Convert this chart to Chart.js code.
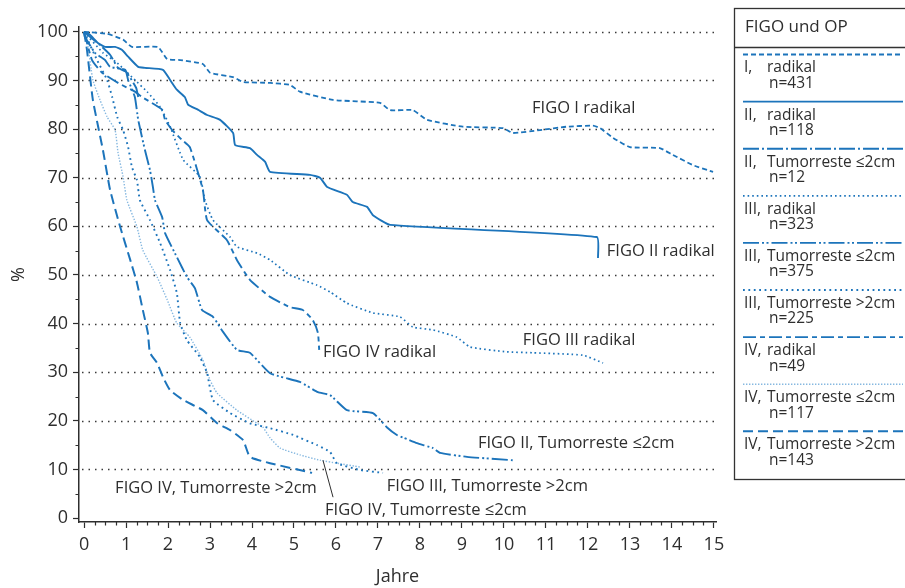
<!DOCTYPE html>
<html>
<head>
    <title>Überleben nach FIGO und OP</title>
    <script src="https://cdn.jsdelivr.net/npm/chart.js"></script>
    <style>
        body { margin: 0; background: #fff; }
        #wrap { width: 905px; height: 588px; }
    </style>
</head>
<body>
    <div id="wrap"><canvas id="figo-survival-chart"></canvas></div>

    <script>
        // axis ticks
        const yTicks = [0, 10, 20, 30, 40, 50, 60, 70, 80, 90, 100];
        const xTicks = [0, 1, 2, 3, 4, 5, 6, 7, 8, 9, 10, 11, 12, 13, 14, 15];

        // survival curves: years / percent
        const figo1RadYears = [0, 0.55, 0.93, 1.14, 1.76, 1.98, 2.29, 2.83, 3.0, 3.55, 3.79, 4.43, 4.9, 5.14, 5.93, 7.05, 7.29, 7.83, 8.17, 9.02, 9.98, 10.21, 10.86, 11.5, 12.12, 12.29, 12.6, 13.0, 13.71, 14.02, 14.5, 14.98];
        const figo1RadPct = [100, 99.6, 98.4, 96.9, 96.9, 94.4, 94.2, 93.4, 91.6, 90.7, 89.7, 89.5, 89.1, 87.7, 86.0, 85.4, 83.9, 83.9, 81.9, 80.5, 80.2, 79.2, 79.8, 80.5, 80.7, 80.2, 78.2, 76.3, 76.1, 74.7, 72.6, 71.2];

        const figo2RadYears = [0, 0.14, 0.33, 0.5, 0.74, 0.9, 1.05, 1.29, 1.45, 1.88, 2.05, 2.21, 2.4, 2.48, 2.71, 2.93, 3.24, 3.55, 3.6, 3.95, 4.12, 4.31, 4.43, 5.38, 5.62, 5.79, 6.26, 6.4, 6.74, 6.88, 7.29, 12.21, 12.24];
        const figo2RadPct = [100, 99.4, 97.7, 96.9, 96.9, 96.3, 94.9, 92.8, 92.6, 92.2, 90.1, 88.1, 86.6, 85.0, 84.0, 82.9, 81.9, 79.2, 76.7, 76.1, 74.7, 73.3, 71.2, 70.6, 70.0, 68.1, 66.5, 65.0, 64.0, 62.3, 60.3, 57.8, 53.5];

        const figo2RestYears = [0, 0.38, 0.62, 0.81, 1.0, 1.24, 1.29];
        const figo2RestPct = [100, 97.3, 95.3, 92.6, 91.8, 88.5, 86.6];

        const figo3RadYears = [0, 0.45, 0.79, 1.26, 1.5, 1.81, 2.05, 2.36, 2.76, 2.88, 3.07, 3.48, 3.64, 4.12, 4.43, 4.9, 5.55, 5.86, 6.26, 6.88, 7.52, 7.83, 8.31, 8.88, 9.19, 10.07, 10.69, 11.88, 12.36];
        const figo3RadPct = [100, 95.7, 93.6, 89.7, 87.7, 84.6, 80.5, 73.7, 70.2, 65.4, 61.3, 57.8, 55.8, 54.5, 53.1, 50.0, 47.9, 46.5, 44.2, 42.2, 41.4, 39.3, 38.7, 37.2, 35.2, 34.2, 34.0, 33.5, 31.9];

        const figo3RestSmallYears = [0, 0.02, 0.26, 0.5, 0.62, 0.98, 1.05, 1.21, 1.29, 1.45, 1.57, 1.64, 1.69, 1.86, 1.93, 2.21, 2.45, 2.64, 2.81, 3.07, 3.31, 3.64, 3.95, 4.43, 5.14, 5.57, 5.86, 6.26, 6.88, 7.21, 7.45, 7.62, 7.93, 8.31, 8.48, 9.12, 10.21];
        const figo3RestSmallPct = [100, 99.0, 95.7, 94.2, 92.8, 92.2, 90.1, 86.6, 81.9, 75.7, 71.6, 68.1, 65.4, 61.9, 58.6, 53.7, 49.6, 47.3, 42.8, 41.4, 38.3, 34.6, 34.0, 29.8, 28.0, 25.9, 25.3, 22.2, 21.6, 18.7, 17.1, 16.5, 15.4, 14.4, 13.4, 12.6, 11.9];

        const figo3RestLargeYears = [0, 0.31, 0.55, 0.67, 0.79, 0.93, 1.05, 1.14, 1.26, 1.33, 1.57, 1.81, 2.05, 2.21, 2.29, 2.45, 2.76, 2.93, 3.07, 3.48, 3.95, 4.43, 4.98, 5.55, 5.86, 6.02, 6.57, 7.12];
        const figo3RestLargePct = [100, 94.2, 90.1, 86.6, 82.5, 79.8, 76.3, 72.2, 69.5, 65.4, 61.3, 56.6, 51.0, 46.3, 40.1, 36.6, 33.1, 29.8, 24.3, 21.6, 19.5, 18.5, 17.1, 15.0, 13.6, 11.3, 9.9, 9.3];

        const figo4RadYears = [0, 0.19, 0.43, 0.81, 1.21, 1.38, 1.86, 1.93, 2.1, 2.33, 2.52, 2.83, 2.93, 3.4, 3.64, 3.95, 4.43, 4.9, 5.21, 5.45, 5.57, 5.6];
        const figo4RadPct = [100, 94.2, 91.6, 89.5, 87.7, 86.6, 84.0, 81.9, 79.8, 77.8, 76.3, 67.5, 61.3, 57.2, 53.1, 49.0, 45.5, 43.4, 42.8, 40.7, 38.1, 34.6];

        const figo4RestSmallYears = [0, 0.07, 0.21, 0.38, 0.55, 0.74, 0.81, 0.93, 1.02, 1.26, 1.4, 1.74, 1.98, 2.21, 2.52, 2.83, 3.0, 3.17, 3.64, 4.12, 4.26, 4.43, 4.67, 5.14, 5.62, 6.02, 6.57];
        const figo4RestSmallPct = [100, 98.4, 90.1, 86.0, 82.5, 79.8, 75.1, 70.2, 65.4, 59.9, 55.1, 49.6, 44.9, 40.1, 37.2, 32.5, 28.4, 25.7, 22.2, 19.5, 18.7, 16.5, 14.4, 13.0, 11.9, 11.3, 10.5];

        const figo4RestLargeYears = [0, 0.07, 0.21, 0.45, 0.62, 0.86, 1.1, 1.26, 1.4, 1.52, 1.57, 1.74, 1.88, 2.05, 2.36, 2.83, 3.17, 3.48, 3.79, 3.95, 4.43, 5.43];
        const figo4RestLargePct = [100, 96.3, 86.0, 75.7, 67.5, 59.9, 53.1, 48.4, 42.8, 38.1, 34.0, 31.9, 29.0, 26.3, 24.3, 22.2, 19.5, 18.1, 16.0, 12.6, 11.3, 9.3];

        // legend rows
        const legendStage = ['I,', 'II,', 'II,', 'III,', 'III,', 'III,', 'IV,', 'IV,', 'IV,'];
        const legendOp = ['radikal', 'radikal', 'Tumorreste \u22642cm', 'radikal', 'Tumorreste \u22642cm', 'Tumorreste >2cm', 'radikal', 'Tumorreste \u22642cm', 'Tumorreste >2cm'];
        const legendN = [431, 118, 12, 323, 375, 225, 49, 117, 143];

        // curve captions, anchored in data units (left edge, middle)
        const curveLabels = [
            ['FIGO I radikal', 10.67, 84.2],
            ['FIGO II radikal', 12.45, 54.9],
            ['FIGO III radikal', 10.45, 36.6],
            ['FIGO IV radikal', 5.69, 34.2],
            ['FIGO II, Tumorreste \u22642cm', 9.38, 15.4],
            ['FIGO III, Tumorreste >2cm', 7.21, 6.6],
            ['FIGO IV, Tumorreste \u22642cm', 5.74, 1.6],
            ['FIGO IV, Tumorreste >2cm', 0.74, 6.2]
        ];
        const leaderLine = [[5.69, 11.9], [5.93, 4.3]];

        const BLUE = '#1c74bb';
        const LIGHT = '#86b8e0';
        const INK = '#2e2e2e';
        const FONT = '"Open Sans", "DejaVu Sans", sans-serif';

        function toPoints(xs, ys) {
            return xs.map((x, i) => ({ x: x, y: ys[i] }));
        }

        function curve(label, xs, ys, dash, color, width) {
            return {
                label: label,
                data: toPoints(xs, ys),
                showLine: true,
                borderColor: color,
                borderWidth: width,
                borderDash: dash,
                borderCapStyle: 'butt',
                borderJoinStyle: 'round',
                pointRadius: 0,
                tension: 0.15,
                fill: false
            };
        }

        const datasets = [
            curve('I, radikal', figo1RadYears, figo1RadPct, [5, 3], BLUE, 1.8),
            curve('II, radikal', figo2RadYears, figo2RadPct, [], BLUE, 1.9),
            curve('II, Tumorreste ≤2cm', figo2RestYears, figo2RestPct, [16, 3, 2, 3], BLUE, 1.9),
            curve('III, radikal', figo3RadYears, figo3RadPct, [1.6, 3], BLUE, 1.7),
            curve('III, Tumorreste ≤2cm', figo3RestSmallYears, figo3RestSmallPct, [16, 3, 2, 2.5, 2, 3], BLUE, 1.9),
            curve('III, Tumorreste >2cm', figo3RestLargeYears, figo3RestLargePct, [1.8, 3.6], BLUE, 1.9),
            curve('IV, radikal', figo4RadYears, figo4RadPct, [13, 4, 5, 4], BLUE, 1.9),
            curve('IV, Tumorreste ≤2cm', figo4RestSmallYears, figo4RestSmallPct, [1.4, 1.6], LIGHT, 1.4),
            curve('IV, Tumorreste >2cm', figo4RestLargeYears, figo4RestLargePct, [10, 5], BLUE, 2)
        ];

        // dotted horizontal grid, minor ticks, captions and the boxed legend
        const decorPlugin = {
            id: 'decor',
            beforeDatasetsDraw(chart) {
                const ctx = chart.ctx;
                const { left, right } = chart.chartArea;
                const y = chart.scales.y;
                ctx.save();
                ctx.strokeStyle = '#3a3a3a';
                ctx.lineWidth = 1.5;
                ctx.setLineDash([1.5, 5]);
                yTicks.filter(v => v > 0).forEach(v => {
                    const py = Math.round(y.getPixelForValue(v)) + 0.5;
                    ctx.beginPath();
                    ctx.moveTo(left + 3, py);
                    ctx.lineTo(right, py);
                    ctx.stroke();
                });
                ctx.restore();
            },
            afterDraw(chart) {
                const ctx = chart.ctx;
                const { left, bottom } = chart.chartArea;
                const x = chart.scales.x;
                const y = chart.scales.y;
                ctx.save();

                // minor ticks
                ctx.strokeStyle = INK;
                ctx.lineWidth = 1.2;
                ctx.beginPath();
                for (let v = 5; v < 100; v += 10) {
                    const py = Math.round(y.getPixelForValue(v)) + 0.5;
                    ctx.moveTo(left, py);
                    ctx.lineTo(left - 3.5, py);
                }
                for (let q = 0; q < 15 * 4; q++) {
                    if (q % 4 === 0) continue;
                    const px = Math.round(x.getPixelForValue(q / 4)) + 0.5;
                    ctx.moveTo(px, bottom);
                    ctx.lineTo(px, bottom + 3.5);
                }
                ctx.stroke();

                // captions
                ctx.fillStyle = INK;
                ctx.font = '16.5px ' + FONT;
                ctx.textAlign = 'left';
                ctx.textBaseline = 'middle';
                curveLabels.forEach(([text, vx, vy]) => {
                    ctx.fillText(text, x.getPixelForValue(vx), y.getPixelForValue(vy));
                });
                ctx.strokeStyle = INK;
                ctx.lineWidth = 1;
                ctx.beginPath();
                ctx.moveTo(x.getPixelForValue(leaderLine[0][0]), y.getPixelForValue(leaderLine[0][1]));
                ctx.lineTo(x.getPixelForValue(leaderLine[1][0]), y.getPixelForValue(leaderLine[1][1]));
                ctx.stroke();

                // legend box
                const bx = 734.5, by = 8.5;
                ctx.strokeStyle = '#333';
                ctx.lineWidth = 1.3;
                ctx.strokeRect(bx, by, 200, 471);
                ctx.beginPath();
                ctx.moveTo(bx, 47.5);
                ctx.lineTo(905, 47.5);
                ctx.stroke();
                ctx.font = '17px ' + FONT;
                ctx.fillText('FIGO und OP', 745, 27);

                ctx.font = '15.5px ' + FONT;
                chart.data.datasets.forEach((ds, i) => {
                    const ly = 54.5 + 47.1 * i;
                    ctx.save();
                    ctx.strokeStyle = ds.borderColor;
                    ctx.lineWidth = ds.borderWidth;
                    ctx.setLineDash(ds.borderDash);
                    ctx.beginPath();
                    ctx.moveTo(743, ly);
                    ctx.lineTo(903, ly);
                    ctx.stroke();
                    ctx.restore();
                    ctx.fillText(legendStage[i], 744, ly + 13.5);
                    const opX = Math.max(767, 744 + ctx.measureText(legendStage[i]).width + 5);
                    ctx.fillText(legendOp[i], opX, ly + 13.5);
                    ctx.fillText('n=' + legendN[i], 769, ly + 29);
                });
                ctx.restore();
            }
        };

        const ctx = document.getElementById('figo-survival-chart').getContext('2d');
        new Chart(ctx, {
            type: 'scatter',
            data: { datasets: datasets },
            options: {
                responsive: true,
                maintainAspectRatio: false,
                animation: false,
                layout: { padding: { top: 27, right: 189, left: 0, bottom: 0 } },
                plugins: {
                    legend: { display: false },
                    tooltip: { enabled: false }
                },
                scales: {
                    x: {
                        type: 'linear',
                        min: -0.12,
                        max: 15.05,
                        afterBuildTicks: s => { s.ticks = xTicks.map(v => ({ value: v })); },
                        afterFit: s => { s.height = 66; },
                        ticks: {
                            color: INK,
                            font: { family: FONT, size: 18 },
                            padding: 6,
                            maxRotation: 0,
                            autoSkip: false
                        },
                        grid: {
                            drawOnChartArea: false,
                            drawTicks: true,
                            tickLength: 6,
                            tickColor: INK,
                            tickWidth: 1.2
                        },
                        border: { color: INK, width: 1.5 },
                        title: {
                            display: true,
                            text: 'Jahre',
                            color: INK,
                            font: { family: FONT, size: 18 },
                            padding: { top: 0, bottom: 0 }
                        }
                    },
                    y: {
                        type: 'linear',
                        min: -0.8,
                        max: 101,
                        afterBuildTicks: s => { s.ticks = yTicks.map(v => ({ value: v })); },
                        afterFit: s => { s.width = 79; },
                        ticks: {
                            color: INK,
                            font: { family: FONT, size: 18 },
                            padding: 5
                        },
                        grid: {
                            drawOnChartArea: false,
                            drawTicks: true,
                            tickLength: 6,
                            tickColor: INK,
                            tickWidth: 1.2
                        },
                        border: { color: INK, width: 1.5 },
                        title: {
                            display: true,
                            text: '%',
                            color: INK,
                            font: { family: FONT, size: 18 },
                            padding: { top: 8, bottom: 0 }
                        }
                    }
                }
            },
            plugins: [decorPlugin]
        });
    </script>
</body>
</html>
